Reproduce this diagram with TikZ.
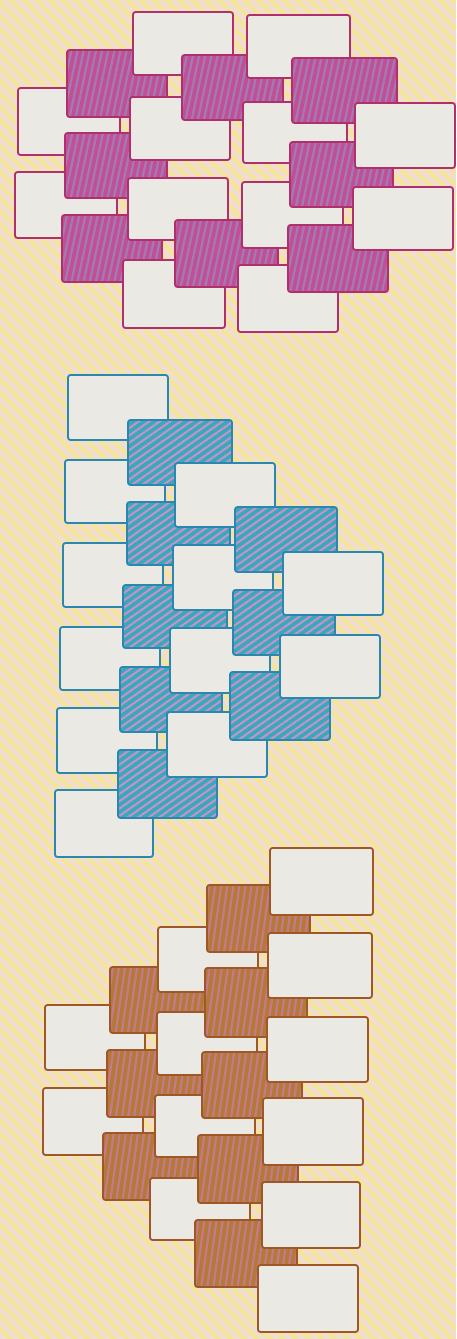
\documentclass[tikz,border=0pt]{standalone}
\usepackage{tikz}
\usetikzlibrary{patterns.meta}
\definecolor{PaperYellow}{HTML}{F4E49C}
\definecolor{PaperStripe}{HTML}{F0DDD6}
\definecolor{CardWhite}{HTML}{EAE9E3}
\definecolor{PlumLine}{HTML}{B0306E}
\definecolor{PlumFill}{HTML}{C24F96}
\definecolor{PlumStripe}{HTML}{A07CB4}
\definecolor{TealLine}{HTML}{2A88B0}
\definecolor{TealFill}{HTML}{34AABB}
\definecolor{TealStripe}{HTML}{C690C8}
\definecolor{OchreLine}{HTML}{9E5828}
\definecolor{OchreFill}{HTML}{B37A36}
\definecolor{OchreStripe}{HTML}{C6788E}

\begin{document}
\begin{tikzpicture}[x=1pt, y=-1pt,
  card/.style={draw=#1, line width=1.8pt, rounded corners=2.5pt, fill=CardWhite},
  chip/.style n args={4}{draw=#1, line width=1.8pt, rounded corners=2.5pt,
               preaction={fill=#2},
               pattern={Lines[angle=#4, distance=6pt, line width=2.2pt]},
               pattern color=#3}
]
\useasboundingbox (0,0) rectangle (456,1339);
% paper
\fill[PaperYellow] (0,0) rectangle (456,1339);
\begin{scope}
  \clip (0,0) rectangle (456,1339);
  \foreach \s in {-1400,-1387,...,460}
    \draw[PaperStripe, line width=4pt] (\s,0) -- ++(1400,1400);
\end{scope}

% plum stack
\foreach \xa/\ya/\xb/\yb in {18/88/120/155, 15/172/117/238}
  \draw[card=PlumLine] (\xa,\ya) rectangle (\xb,\yb);
\foreach \xa/\ya/\xb/\yb in {67/50/167/117, 65/133/167/198, 62/215/162/282}
  \draw[chip={PlumLine}{PlumFill}{PlumStripe}{78}] (\xa,\ya) rectangle (\xb,\yb);
\foreach \xa/\ya/\xb/\yb in {133/12/233/75, 130/97/230/160, 128/178/228/240, 123/260/225/328}
  \draw[card=PlumLine] (\xa,\ya) rectangle (\xb,\yb);
\foreach \xa/\ya/\xb/\yb in {182/55/283/120, 175/220/278/287}
  \draw[chip={PlumLine}{PlumFill}{PlumStripe}{78}] (\xa,\ya) rectangle (\xb,\yb);
\foreach \xa/\ya/\xb/\yb in {247/15/350/78, 243/102/347/163, 242/182/343/248, 238/265/338/332}
  \draw[card=PlumLine] (\xa,\ya) rectangle (\xb,\yb);
\foreach \xa/\ya/\xb/\yb in {292/58/397/123, 290/142/393/207, 288/225/388/292}
  \draw[chip={PlumLine}{PlumFill}{PlumStripe}{78}] (\xa,\ya) rectangle (\xb,\yb);
\foreach \xa/\ya/\xb/\yb in {355/103/455/168, 353/187/453/250}
  \draw[card=PlumLine] (\xa,\ya) rectangle (\xb,\yb);

% teal stack
\foreach \xa/\ya/\xb/\yb in {68/375/168/440, 65/460/165/523, 63/543/163/607, 60/627/160/690, 57/708/157/773, 55/790/153/857}
  \draw[card=TealLine] (\xa,\ya) rectangle (\xb,\yb);
\foreach \xa/\ya/\xb/\yb in {128/420/232/485, 127/502/230/565, 123/585/227/648, 120/667/222/732, 118/750/217/818}
  \draw[chip={TealLine}{TealFill}{TealStripe}{35}] (\xa,\ya) rectangle (\xb,\yb);
\foreach \xa/\ya/\xb/\yb in {175/463/275/527, 173/545/273/610, 170/628/270/693, 167/712/267/777}
  \draw[card=TealLine] (\xa,\ya) rectangle (\xb,\yb);
\foreach \xa/\ya/\xb/\yb in {235/507/337/572, 233/590/335/655, 230/672/330/740}
  \draw[chip={TealLine}{TealFill}{TealStripe}{35}] (\xa,\ya) rectangle (\xb,\yb);
\foreach \xa/\ya/\xb/\yb in {283/552/383/615, 280/635/380/698}
  \draw[card=TealLine] (\xa,\ya) rectangle (\xb,\yb);

% ochre stack
\foreach \xa/\ya/\xb/\yb in {45/1005/145/1070, 43/1088/143/1155}
  \draw[card=OchreLine] (\xa,\ya) rectangle (\xb,\yb);
\foreach \xa/\ya/\xb/\yb in {110/967/207/1033, 107/1050/205/1117, 103/1133/202/1200}
  \draw[chip={OchreLine}{OchreFill}{OchreStripe}{82}] (\xa,\ya) rectangle (\xb,\yb);
\foreach \xa/\ya/\xb/\yb in {158/927/258/992, 157/1012/257/1075, 155/1095/255/1157, 150/1178/250/1240}
  \draw[card=OchreLine] (\xa,\ya) rectangle (\xb,\yb);
\foreach \xa/\ya/\xb/\yb in {207/885/310/952, 205/968/307/1037, 202/1052/302/1118, 198/1135/298/1203, 195/1220/297/1287}
  \draw[chip={OchreLine}{OchreFill}{OchreStripe}{82}] (\xa,\ya) rectangle (\xb,\yb);
\foreach \xa/\ya/\xb/\yb in {270/848/373/915, 268/933/372/998, 267/1017/368/1082, 263/1098/363/1165, 262/1182/360/1248, 258/1265/358/1332}
  \draw[card=OchreLine] (\xa,\ya) rectangle (\xb,\yb);
\end{tikzpicture}
\end{document}
